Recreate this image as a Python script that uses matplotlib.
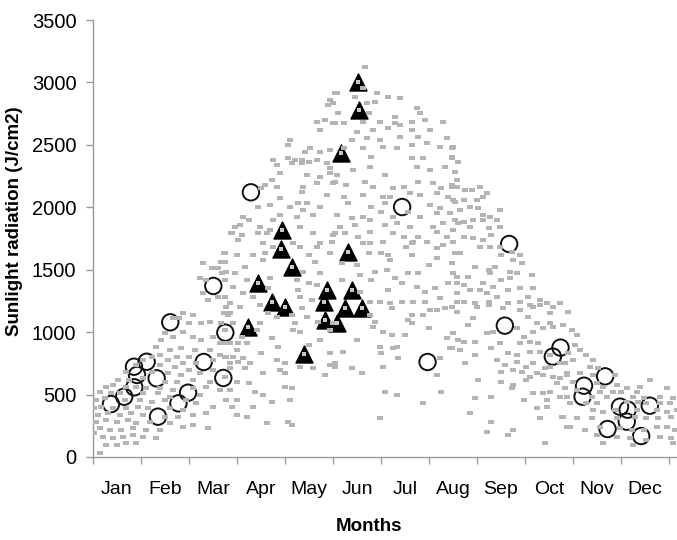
import matplotlib.pyplot as plt
import numpy as np

plt.rcParams['font.family'] = ['Liberation Sans', 'DejaVu Sans']

# Months on the x axis: 0 = start of Jan, 12 = end of Dec
months = ['Jan', 'Feb', 'Mar', 'Apr', 'May', 'Jun',
          'Jul', 'Aug', 'Sep', 'Oct', 'Nov', 'Dec']

# --- daily radiation (gray dots), (month, J/cm2) ---
dots_jan_mar = [
    (2.88, 1791), (2.74, 1631), (2.67, 1564), (2.29, 1551), (2.47, 1511), (2.6, 1511),
    (2.78, 1484), (2.22, 1431), (2.36, 1417), (2.74, 1417), (2.29, 1310), (2.4, 1257),
    (2.6, 1284), (2.78, 1204), (1.875, 1150), (2.08, 1137), (2.81, 1137), (1.67, 1110),
    (1.8, 1110), (2.01, 1070), (2.26, 1070), (2.43, 1083), (2.67, 1070), (1.49, 990),
    (1.42, 937), (1.67, 963), (1.875, 1003), (2.08, 963), (2.26, 937), (2.5, 963),
    (2.64, 910), (2.85, 910), (1.32, 883), (1.84, 870), (1.6, 857), (2.12, 857),
    (2.43, 857), (1.39, 817), (1.22, 803), (1.74, 803), (2.01, 803), (2.64, 817),
    (1.04, 776), (1.56, 776), (1.875, 750), (2.15, 750), (2.5, 776), (2.78, 803),
    (0.9, 736), (1.39, 736), (1.7, 723), (2.01, 696), (2.5, 696), (2.85, 709),
    (0.69, 683), (1.22, 683), (1.56, 670), (1.84, 656), (2.22, 670), (0.52, 616),
    (0.76, 616), (1.04, 630), (1.49, 603), (1.74, 603), (2.08, 616), (2.43, 603),
    (0.28, 563), (0.42, 576), (0.69, 563), (0.9, 563), (1.11, 550), (1.39, 550),
    (1.67, 536), (2.08, 550), (2.36, 563), (2.64, 536), (0.14, 523), (0.38, 510),
    (0.56, 510), (1.04, 510), (1.35, 510), (1.6, 483), (2.22, 496), (0.07, 456),
    (0.24, 469), (0.66, 456), (0.97, 456), (1.22, 443), (1.49, 456), (1.94, 456),
    (2.15, 430), (2.5, 403), (0.03, 389), (0.17, 403), (0.42, 389), (0.69, 389),
    (0.94, 403), (1.15, 389), (1.6, 389), (1.875, 376), (0.1, 336), (0.31, 349),
    (0.56, 336), (0.8, 349), (1.04, 336), (1.49, 322), (1.77, 322), (2.08, 336),
    (2.36, 349), (0.07, 282), (0.28, 296), (0.49, 282), (0.73, 296), (0.9, 269),
    (1.18, 282), (1.6, 269), (1.875, 242), (2.08, 256), (2.4, 229), (0.14, 229),
    (0.35, 216), (0.59, 216), (0.83, 229), (1.11, 216), (1.39, 216), (0.21, 162),
    (0.42, 149), (0.625, 162), (0.83, 176), (1.04, 162), (1.32, 149), (0.28, 96),
    (0.49, 96), (0.69, 109), (0.9, 109), (0.14, 29), (0.02, 189),
]

dots_apr_may_high = [
    (5.04, 2913), (4.94, 2860), (4.9, 2820), (4.66, 2686), (4.83, 2700), (5.04, 2673),
    (4.73, 2619), (4.1, 2539), (4.07, 2499), (4.52, 2472), (4.42, 2446), (4.73, 2446),
    (4.94, 2459), (3.76, 2379), (4.07, 2392), (4.21, 2379), (4.35, 2379), (4.49, 2366),
    (4.66, 2379), (4.87, 2352), (3.83, 2339), (4.14, 2352), (4.35, 2352), (3.9, 2272),
    (4.45, 2259), (4.73, 2245), (4.94, 2272), (3.72, 2219), (3.58, 2179), (3.83, 2166),
    (4.38, 2166), (4.66, 2192), (5.04, 2205), (3.51, 2152), (4.35, 2125), (4.87, 2099),
    (3.69, 2019), (3.9, 2072), (4.28, 2032), (4.45, 2032), (3.44, 2005), (4.1, 2005),
    (4.38, 1979), (4.73, 2005), (3.13, 1925), (3.24, 1898), (3.76, 1898), (3.9, 1938),
    (4.24, 1925), (4.59, 1938), (2.96, 1845), (3.06, 1858), (3.48, 1845), (3.69, 1818),
    (4.31, 1845), (2.89, 1792), (3.1, 1778), (3.44, 1792), (3.62, 1792), (4.59, 1792),
    (5.04, 1792), (3.03, 1738), (3.55, 1711), (4.17, 1711), (4.73, 1711), (4.97, 1725),
]

dots_apr_may_low = [
    (2.72, 1631), (2.99, 1618), (3.34, 1618), (3.58, 1631), (3.76, 1685), (4.31, 1685),
    (4.49, 1618), (4.66, 1685), (4.94, 1631), (3.55, 1578), (2.75, 1564), (3.17, 1524),
    (4.63, 1564), (2.68, 1471), (2.96, 1471), (4.38, 1484), (4.73, 1471), (2.75, 1418),
    (3.2, 1418), (3.69, 1431), (4.24, 1418), (4.49, 1391), (2.92, 1364), (3.65, 1351),
    (4.28, 1338), (4.66, 1378), (2.75, 1284), (3.13, 1311), (3.34, 1284), (4.31, 1284),
    (4.56, 1257), (2.85, 1231), (3.06, 1204), (3.48, 1217), (4.35, 1191), (2.72, 1151),
    (2.85, 1151), (3.65, 1151), (3.83, 1124), (4.14, 1137), (4.45, 1124), (2.92, 1071),
    (3.48, 1071), (4.21, 1071), (4.69, 1084), (2.75, 1017), (3.41, 1017), (4.17, 1017),
    (4.31, 1004), (4.94, 1017), (3.1, 964), (3.72, 950), (4.73, 937), (2.78, 910),
    (3.03, 910), (3.2, 910), (3.86, 884), (4.49, 897), (3.0, 857), (2.75, 803),
    (2.92, 803), (3.13, 790), (3.51, 830), (4.94, 830), (2.85, 750), (3.03, 763),
    (3.27, 750), (3.83, 777), (4.0, 750), (4.31, 723), (3.17, 710), (3.9, 697),
    (4.0, 670), (4.59, 710), (4.94, 737), (2.75, 643), (3.55, 670), (5.04, 723),
    (3.0, 603), (3.24, 590), (4.0, 563), (4.14, 550), (4.83, 657), (2.85, 536),
    (3.37, 523), (3.55, 496), (2.78, 456), (3.0, 456), (3.72, 443), (4.1, 456),
    (2.89, 403), (3.34, 403), (3.0, 336), (3.2, 323), (3.62, 269), (4.07, 283),
    (4.14, 256),
]

dots_jun_jul_high = [
    (5.67, 3127), (5.08, 2913), (5.63, 2953), (5.91, 2913), (6.15, 2886), (6.4, 2873),
    (5.01, 2833), (5.46, 2886), (5.7, 2833), (5.88, 2846), (5.11, 2753), (5.74, 2753),
    (6.29, 2726), (6.74, 2793), (6.81, 2753), (5.01, 2673), (5.22, 2673), (5.63, 2686),
    (5.98, 2686), (6.29, 2673), (6.4, 2660), (6.64, 2686), (6.92, 2700), (7.3, 2686),
    (5.49, 2606), (5.84, 2619), (6.15, 2633), (6.64, 2619), (7.02, 2619), (5.39, 2539),
    (5.7, 2553), (5.98, 2539), (6.4, 2566), (6.78, 2566), (7.37, 2553), (5.22, 2472),
    (5.63, 2472), (6.05, 2486), (6.33, 2472), (6.64, 2499), (6.95, 2513), (7.23, 2486),
    (7.47, 2472), (5.8, 2406), (6.64, 2392), (6.88, 2392), (7.47, 2392), (4.94, 2312),
    (5.08, 2259), (5.42, 2299), (5.77, 2326), (6.08, 2259), (6.74, 2326), (7.02, 2299),
    (7.33, 2326), (7.54, 2286), (5.01, 2192), (5.28, 2179), (5.67, 2205), (5.84, 2166),
    (6.26, 2152), (6.47, 2166), (6.78, 2205), (7.09, 2192), (7.26, 2152), (7.47, 2179),
    (5.22, 2085), (5.63, 2099), (6.05, 2085), (6.19, 2085), (6.6, 2112), (6.81, 2099),
    (7.16, 2112), (7.4, 2085), (5.32, 2032), (5.8, 2005), (6.08, 2032), (7.02, 2019),
    (7.23, 1992), (7.54, 2045), (5.08, 1938), (5.39, 1912), (5.63, 1925), (6.01, 1965),
    (6.26, 1925), (6.57, 1965), (6.81, 1925), (7.16, 1952), (7.44, 1952), (5.15, 1845),
    (5.46, 1858), (5.77, 1898), (6.08, 1858), (6.33, 1872), (6.6, 1845), (7.09, 1845),
    (7.3, 1872), (7.61, 1872), (5.01, 1778), (5.25, 1792), (5.53, 1765), (5.77, 1805),
    (6.26, 1792), (6.47, 1765), (6.78, 1765), (7.16, 1805), (7.37, 1765), (5.63, 1711),
    (6.05, 1725), (6.64, 1711), (6.95, 1725), (7.51, 1725),
]

dots_jun_jul_low = [
    (5.77, 1711), (6.01, 1631), (6.15, 1618), (6.19, 1578), (6.53, 1685), (6.64, 1618),
    (6.67, 1725), (7.16, 1671), (7.3, 1698), (7.54, 1631), (5.18, 1551), (5.49, 1538),
    (5.74, 1631), (5.87, 1484), (6.12, 1498), (6.57, 1471), (6.78, 1471), (6.99, 1538),
    (7.16, 1591), (7.51, 1471), (5.18, 1418), (5.56, 1458), (5.8, 1418), (6.29, 1431),
    (6.43, 1391), (7.58, 1391), (6.15, 1338), (6.74, 1364), (6.92, 1324), (7.12, 1351),
    (7.4, 1391), (5.56, 1324), (5.77, 1244), (5.98, 1244), (6.19, 1231), (6.43, 1244),
    (6.67, 1244), (6.92, 1244), (7.23, 1271), (7.58, 1244), (6.22, 1191), (7.02, 1177),
    (7.33, 1191), (5.77, 1137), (6.64, 1137), (6.88, 1137), (7.16, 1177), (7.58, 1164),
    (5.87, 1084), (6.57, 1097), (5.01, 1071), (5.84, 1044), (6.64, 1071), (6.05, 1004),
    (6.22, 977), (6.5, 977), (6.99, 1031), (7.37, 950), (7.61, 937), (5.49, 937),
    (5.98, 884), (6.26, 870), (6.33, 884), (6.01, 830), (7.44, 870), (5.21, 844),
    (5.04, 750), (6.36, 790), (7.23, 790), (5.39, 710), (5.6, 670), (6.05, 723),
    (7.16, 657), (6.08, 523), (6.33, 496), (7.26, 523), (6.88, 430), (5.98, 309),
    (4.94, 737),
]

dots_aug_sep = [
    (7.51, 2485), (7.47, 2405), (7.61, 2365), (7.58, 2218), (7.47, 2165), (7.58, 2165),
    (7.75, 2138), (7.89, 2138), (8.06, 2165), (8.2, 2112), (7.51, 2058), (7.72, 2058),
    (8.0, 2058), (8.13, 2085), (7.85, 2005), (7.65, 1978), (8.03, 1991), (8.48, 1978),
    (8.13, 1938), (8.27, 1925), (7.54, 1898), (7.72, 1885), (7.92, 1898), (8.13, 1898),
    (8.41, 1898), (7.51, 1818), (7.85, 1845), (8.24, 1831), (8.48, 1845), (7.72, 1764),
    (7.92, 1751), (8.13, 1738), (8.3, 1778), (8.06, 1684), (8.27, 1684), (8.48, 1684),
    (7.65, 1631), (8.72, 1644), (8.51, 1618), (8.9, 1618), (8.76, 1578), (8.93, 1551),
    (7.47, 1551), (7.96, 1524), (8.24, 1498), (8.37, 1524), (8.27, 1471), (8.69, 1484),
    (8.83, 1471), (9.14, 1458), (7.58, 1444), (7.82, 1444), (8.51, 1418), (8.69, 1431),
    (8.13, 1391), (7.72, 1378), (8.34, 1364), (7.85, 1337), (8.06, 1337), (8.65, 1337),
    (8.9, 1351), (9.17, 1351), (7.58, 1311), (8.2, 1311), (8.41, 1284), (9.07, 1284),
    (9.31, 1257), (7.72, 1244), (7.96, 1231), (8.24, 1244), (8.65, 1231), (8.9, 1244),
    (9.45, 1231), (7.47, 1204), (9.59, 1204), (9.17, 1204),
]

dots_sep_oct = [
    (7.72, 1244), (7.99, 1204), (8.24, 1217), (8.55, 1190), (8.9, 1177), (9.1, 1217),
    (9.31, 1217), (9.52, 1150), (9.73, 1230), (9.9, 1164), (7.92, 1110), (9.07, 1124),
    (9.24, 1070), (9.52, 1070), (9.8, 1057), (7.51, 990), (7.82, 1057), (8.2, 990),
    (8.34, 1003), (8.83, 1030), (8.97, 963), (9.17, 1003), (9.38, 1030), (9.59, 1043),
    (7.72, 923), (7.96, 923), (8.3, 870), (8.48, 910), (8.9, 910), (9.1, 923),
    (9.28, 910), (7.47, 870), (7.65, 857), (8.65, 830), (8.83, 817), (9.1, 843),
    (9.31, 843), (9.52, 817), (7.96, 817), (8.41, 776), (7.75, 750), (8.58, 736),
    (8.83, 763), (9.03, 723), (9.17, 750), (9.42, 710), (9.52, 723), (9.73, 750),
    (8.51, 683), (8.76, 696), (8.93, 683), (9.1, 643), (9.24, 670), (9.38, 656),
    (9.59, 643), (9.73, 630), (9.87, 656), (8.03, 616), (8.51, 603), (8.76, 576),
    (9.03, 616), (9.66, 590), (8.72, 550), (8.3, 483), (9.17, 510), (9.38, 510),
    (9.52, 523), (9.83, 550), (7.96, 470), (8.97, 456), (9.45, 456), (9.73, 483),
    (9.24, 389), (9.45, 403), (7.85, 349), (8.3, 282), (9.31, 309), (9.78, 323),
    (8.76, 216), (8.2, 202), (8.65, 176), (9.42, 109), (9.87, 242),
]

dots_nov_dec = [
    (9.97, 1017), (10.08, 977), (10.04, 897), (10.15, 857), (9.9, 830), (10.28, 817),
    (9.83, 750), (10.01, 777), (10.42, 777), (10.35, 723), (10.53, 710), (9.87, 670),
    (10.15, 670), (10.42, 656), (10.875, 656), (10.01, 603), (10.49, 590), (10.63, 563),
    (10.91, 576), (11.12, 550), (10.56, 523), (10.84, 523), (11.01, 523), (11.33, 523),
    (11.95, 550), (9.87, 483), (10.39, 483), (10.7, 483), (11.26, 483), (11.47, 470),
    (11.81, 483), (12.09, 470), (9.94, 430), (10.28, 430), (10.49, 430), (11.12, 443),
    (11.36, 443), (11.53, 430), (11.81, 430), (12.02, 430), (10.42, 376), (10.63, 363),
    (10.875, 376), (11.33, 376), (11.74, 376), (11.95, 363), (12.16, 376), (9.8, 323),
    (10.08, 309), (10.39, 309), (10.91, 309), (11.29, 323), (11.53, 309), (11.78, 309),
    (12.05, 323), (9.94, 243), (10.25, 216), (10.56, 243), (10.98, 229), (11.22, 216),
    (11.47, 216), (11.74, 243), (11.95, 243), (12.125, 216), (10.49, 176), (10.91, 163),
    (11.19, 149), (11.53, 136), (11.81, 163), (12.05, 149), (10.63, 109), (11.26, 96),
    (12.09, 109), (10.08, 536), (11.6, 616), (11.4, 563),
]

# --- sampled days shown with open circles ---
circle_month = [0.375, 0.65, 0.86, 0.854, 0.917, 1.118, 1.326, 1.61, 1.354, 1.78,
                1.98, 2.306, 2.507, 2.757, 2.715, 3.29, 6.44, 6.97, 8.58, 8.67,
                9.58, 9.74, 10.23, 10.2, 10.67, 10.72, 10.98, 11.14, 11.12, 11.42,
                11.6]
circle_value = [424, 483, 558, 723, 657, 763, 630, 1079, 323, 430,
                515, 761, 1370, 996, 633, 2120, 2002, 761, 1052, 1706,
                804, 876, 571, 483, 646, 224, 403, 379, 283, 168,
                411]

# --- sampled days shown with black triangles ---
tri_month = [3.22, 3.43, 3.72, 3.99, 3.93, 3.92, 4.15, 4.39, 4.88, 4.81,
             4.84, 5.09, 5.53, 5.55, 5.17, 5.32, 5.39, 5.25, 5.60]
tri_value = [1039, 1396, 1244, 1204, 1818, 1663, 1524, 822, 1337, 1244,
             1097, 1071, 3006, 2779, 2432, 1645, 1337, 1191, 1191]

all_dots = np.array(dots_jan_mar + dots_apr_may_high + dots_apr_may_low
                    + dots_jun_jul_high + dots_jun_jul_low + dots_aug_sep
                    + dots_sep_oct + dots_nov_dec)

# small flat rectangle for the daily points
dash = [(-1, -0.8), (1, -0.8), (1, 0.8), (-1, 0.8), (-1, -0.8)]

fig = plt.figure(figsize=(6.77, 5.40), dpi=100)
ax = fig.add_axes([93 / 677, 1 - 457 / 540, 1 - 93 / 677, (457 - 20) / 540])

ax.scatter(circle_month, circle_value, s=140, marker='o', facecolors='none',
           edgecolors='#111111', linewidths=1.4, zorder=2)
ax.scatter(tri_month, tri_value, s=150, marker='^', color='black', zorder=3)
ax.scatter(all_dots[:, 0], all_dots[:, 1], s=13, marker=dash, color='#b4b4b4',
           linewidths=0, zorder=4)
# each sampled day is also one of the daily points
ax.scatter(tri_month, tri_value, s=8, marker=dash, color='#c8c8c8', linewidths=0, zorder=4)

ax.set_xlim(0, 12.167)
ax.set_ylim(0, 3500)
ax.set_yticks(np.arange(0, 3501, 500))

ax.set_xticks(np.arange(0, 13))
ax.set_xticklabels([])
ax.set_xticks(np.arange(12) + 0.5, minor=True)
ax.set_xticklabels(months, minor=True)
ax.tick_params(axis='x', which='minor', length=0, pad=17, labelsize=14)
ax.tick_params(axis='x', which='major', length=5, width=1, color='#999999')
ax.tick_params(axis='y', length=5, width=1, color='#999999', pad=7, labelsize=14.5)

for side in ['top', 'right']:
    ax.spines[side].set_visible(False)
for side in ['left', 'bottom']:
    ax.spines[side].set_color('#999999')
    ax.spines[side].set_linewidth(1.0)

ax.set_xlabel('Months', fontsize=13.5, fontweight='bold')
ax.xaxis.set_label_coords(0.473, -0.14)
ax.set_ylabel('Sunlight radiation (J/cm2)', fontsize=13.5, fontweight='bold')
ax.yaxis.set_label_coords(-0.12, 0.54)

fig.savefig('out.png', dpi=100)
